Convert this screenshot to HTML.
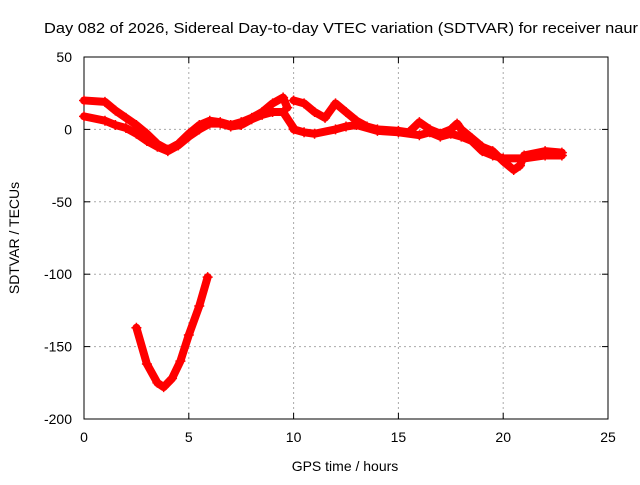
<!DOCTYPE html>
<html><head><meta charset="utf-8"><style>
body{margin:0;background:#fff}
svg{font-family:"Liberation Sans",sans-serif;font-size:14px}
</style></head><body>
<svg id="chart" width="640" height="480">
<rect width="640" height="480" fill="#fff"/>
<text x="44" y="33" font-size="15" textLength="594" lengthAdjust="spacingAndGlyphs">Day 082 of 2026, Sidereal Day-to-day VTEC variation (SDTVAR) for receiver naur</text>
<g id="grid"></g><g id="axes"></g><g id="series"></g>
<text x="345" y="471" text-anchor="middle">GPS time / hours</text>
<text transform="translate(19,238) rotate(-90)" text-anchor="middle">SDTVAR / TECUs</text>
</svg>
<script>
const xTicks=[0,5,10,15,20,25];
const yTicks=[50,0,-50,-100,-150,-200];
const trackA_x=[0,1,1.5,2,2.5,3,3.5,4,4.5,5,5.5,6,6.5,7,7.5,8,8.5,9,9.5,9.7];
const trackA_y=[20,19,13,8,3,-3,-10,-14,-10,-3,3,6,5,3,5,8,12,18,22,15];
const trackB_x=[0,1,1.5,2,2.5,3,3.5,4,4.5,5,5.5,6,6.5,7,7.5,8,8.5,9,9.5,10];
const trackB_y=[9,6,3,1,-3,-8,-12,-15,-11,-5,0,4,4,2,3,7,10,12,12,1];
const trackC_x=[10,10.5,11,11.5,12,12.5,13,13.5,14,15,15.5,16,16.5,17,17.5,17.8,18,18.5,19,19.5,20,20.5,20.8,21,22,22.8];
const trackC_y=[20,18,12,8,18,12,6,2,0,-1,-2,5,0,-3,0,4,0,-6,-12,-15,-22,-28,-25,-18,-15,-16];
const trackD_x=[10,10.5,11,12,12.5,13,14,15,16,16.5,17,17.5,18,18.5,19,19.5,20,21,22,22.8];
const trackD_y=[0,-2,-3,0,2,3,-1,-2,-4,-2,-5,-3,-5,-8,-15,-18,-20,-20,-18,-18];
const trackE_x=[2.5,3,3.5,3.8,4.2,4.6,5,5.5,5.9];
const trackE_y=[-137,-162,-175,-178,-172,-160,-142,-122,-102];
const L=84,R=608,T=57,B=419;
const sx=v=>L+(v-0)/25*(R-L);
const sy=v=>T+(50-v)/250*(B-T);
const NS="http://www.w3.org/2000/svg";
function mk(t,a,p){const e=document.createElementNS(NS,t);for(const k in a)e.setAttribute(k,a[k]);p.appendChild(e);return e;}
const grid=document.getElementById('grid'),axes=document.getElementById('axes'),ser=document.getElementById('series');
xTicks.forEach(v=>{const x=sx(v);
 if(v>0&&v<25){const g=mk('line',{x1:x,x2:x,y1:T,y2:B,stroke:'#aaa','stroke-dasharray':'2,3','stroke-width':1},grid);
 
 }
 const t=mk('text',{x:x,y:B+23,'text-anchor':'middle'},axes);t.textContent=v;
 
 
 mk('line',{x1:x,x2:x,y1:B,y2:B-6,stroke:'#000'},axes);mk('line',{x1:x,x2:x,y1:T,y2:T+6,stroke:'#000'},axes);});
yTicks.forEach(v=>{const y=sy(v);
 if(v<50&&v>-200){const g=mk('line',{x1:L,x2:R,y1:y,y2:y,stroke:'#aaa','stroke-dasharray':'2,3','stroke-width':1},grid);
 
 }
 const t=mk('text',{x:L-12,y:y+5,'text-anchor':'end'},axes);t.textContent=v;
 
 
 mk('line',{x1:L,x2:L+6,y1:y,y2:y,stroke:'#000'},axes);mk('line',{x1:R,x2:R-6,y1:y,y2:y,stroke:'#000'},axes);});
const fr=mk('rect',{x:L,y:T,width:R-L,height:B-T,fill:'none',stroke:'#000'},axes);


[[trackA_x,trackA_y,'track-a'],[trackB_x,trackB_y,'track-b'],[trackC_x,trackC_y,'track-c'],[trackD_x,trackD_y,'track-d'],[trackE_x,trackE_y,'track-e']].forEach(([xs,ys,n])=>{
 const pts=xs.map((x,i)=>sx(x)+','+sy(ys[i])).join(' ');
 const p=mk('polyline',{points:pts,fill:'none',stroke:'#f00','stroke-width':8,'stroke-linejoin':'round','stroke-linecap':'round'},ser);
 
 
 xs.forEach((x,i)=>{const cx=sx(x),cy=sy(ys[i]);
  const m=mk('path',{d:`M${cx-5},${cy}h10M${cx},${cy-5}v10`,stroke:'#f00','stroke-width':1.5},ser);
  
  });
});
</script>
</body></html>
